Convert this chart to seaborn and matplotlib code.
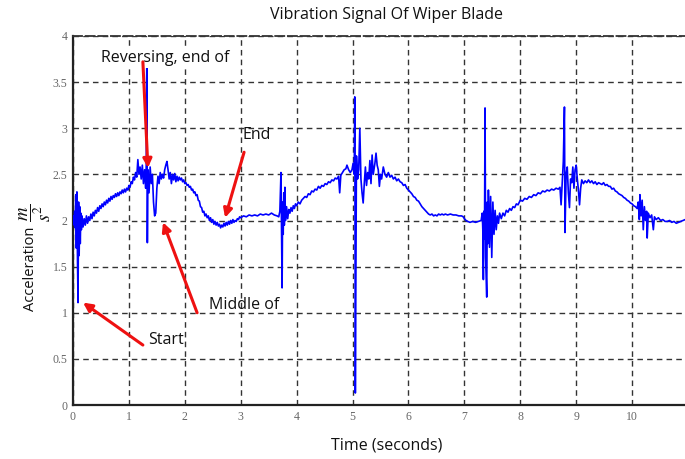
import matplotlib
matplotlib.use("Agg")
import matplotlib.pyplot as plt
import seaborn as sns
import pandas as pd

time_s = [
    0.00, 0.01, 0.02, 0.03, 0.04, 0.05, 0.06, 0.07, 0.08, 0.09, 0.10, 0.11, 0.12, 0.13, 0.14, 0.15, 0.16, 0.18,
    0.20, 0.22, 0.24, 0.26, 0.28, 0.30, 0.32, 0.34, 0.36, 0.38, 0.40, 0.42, 0.44, 0.46, 0.48, 0.50, 0.52, 0.54,
    0.56, 0.58, 0.60, 0.62, 0.64, 0.66, 0.68, 0.70, 0.72, 0.74, 0.76, 0.78, 0.80, 0.82, 0.84, 0.86, 0.88, 0.90,
    0.92, 0.94, 0.96, 0.98, 1.00, 1.02, 1.04, 1.06, 1.08, 1.10, 1.12, 1.14, 1.16, 1.18, 1.20, 1.22, 1.24, 1.26,
    1.28, 1.30, 1.31, 1.32, 1.33, 1.34, 1.36, 1.38, 1.40, 1.42, 1.44, 1.46, 1.48, 1.50, 1.52, 1.54, 1.56, 1.58,
    1.60, 1.62, 1.64, 1.66, 1.68, 1.70, 1.72, 1.74, 1.76, 1.78, 1.80, 1.82, 1.84, 1.86, 1.88, 1.90, 1.92, 1.94,
    1.96, 1.98, 2.00, 2.02, 2.04, 2.06, 2.08, 2.10, 2.12, 2.14, 2.16, 2.18, 2.20, 2.22, 2.24, 2.26, 2.28, 2.30,
    2.32, 2.34, 2.36, 2.38, 2.40, 2.42, 2.44, 2.46, 2.48, 2.50, 2.52, 2.54, 2.56, 2.58, 2.60, 2.62, 2.64, 2.66,
    2.68, 2.70, 2.72, 2.74, 2.76, 2.78, 2.80, 2.82, 2.84, 2.86, 2.88, 2.90, 2.92, 2.94, 2.96, 2.98, 3.00, 3.05,
    3.10, 3.15, 3.20, 3.25, 3.30, 3.35, 3.40, 3.45, 3.50, 3.55, 3.60, 3.65, 3.68, 3.70, 3.72, 3.73, 3.74, 3.75,
    3.76, 3.77, 3.78, 3.79, 3.80, 3.82, 3.84, 3.86, 3.88, 3.90, 3.92, 3.94, 3.96, 3.98, 4.00, 4.03, 4.06, 4.09,
    4.12, 4.15, 4.18, 4.21, 4.24, 4.27, 4.30, 4.33, 4.36, 4.39, 4.42, 4.45, 4.48, 4.51, 4.54, 4.57, 4.60, 4.63,
    4.66, 4.69, 4.72, 4.75, 4.77, 4.79, 4.82, 4.85, 4.88, 4.90, 4.93, 4.96, 4.99, 5.01, 5.03, 5.04, 5.05, 5.07,
    5.09, 5.11, 5.13, 5.15, 5.17, 5.19, 5.21, 5.23, 5.25, 5.27, 5.29, 5.31, 5.33, 5.35, 5.37, 5.40, 5.42, 5.44,
    5.46, 5.48, 5.50, 5.52, 5.55, 5.58, 5.61, 5.64, 5.67, 5.70, 5.73, 5.76, 5.79, 5.82, 5.85, 5.88, 5.91, 5.94,
    5.97, 6.00, 6.03, 6.06, 6.09, 6.12, 6.15, 6.18, 6.21, 6.24, 6.27, 6.30, 6.33, 6.36, 6.39, 6.42, 6.45, 6.48,
    6.51, 6.54, 6.57, 6.60, 6.63, 6.66, 6.70, 6.75, 6.80, 6.85, 6.90, 6.95, 6.98, 7.00, 7.03, 7.06, 7.10, 7.15,
    7.20, 7.25, 7.30, 7.32, 7.33, 7.34, 7.35, 7.36, 7.37, 7.38, 7.40, 7.41, 7.42, 7.43, 7.45, 7.47, 7.49, 7.51,
    7.53, 7.55, 7.57, 7.59, 7.61, 7.63, 7.66, 7.69, 7.72, 7.75, 7.78, 7.81, 7.84, 7.87, 7.90, 7.93, 7.96, 8.00,
    8.04, 8.08, 8.12, 8.16, 8.20, 8.24, 8.28, 8.32, 8.36, 8.40, 8.44, 8.48, 8.52, 8.56, 8.60, 8.64, 8.68, 8.71,
    8.73, 8.75, 8.77, 8.79, 8.80, 8.82, 8.84, 8.86, 8.88, 8.90, 8.92, 8.94, 8.96, 8.98, 9.00, 9.02, 9.04, 9.06,
    9.08, 9.10, 9.13, 9.16, 9.19, 9.22, 9.25, 9.28, 9.31, 9.34, 9.37, 9.40, 9.43, 9.46, 9.49, 9.52, 9.55, 9.58,
    9.61, 9.64, 9.67, 9.70, 9.73, 9.76, 9.79, 9.82, 9.85, 9.88, 9.91, 9.94, 9.97, 10.00, 10.03, 10.06, 10.09, 10.11,
    10.13, 10.14, 10.16, 10.18, 10.20, 10.22, 10.24, 10.26, 10.27, 10.29, 10.32, 10.35, 10.38, 10.40, 10.43, 10.47, 10.51, 10.55,
    10.59, 10.63, 10.67, 10.71, 10.75, 10.79, 10.83, 10.87, 10.91, 10.95, 11.00,
]

acceleration = [
    2.00, 2.05, 1.95, 2.10, 1.92, 2.28, 1.70, 2.31, 1.58, 1.11, 2.20, 1.62, 2.15, 1.75, 2.08, 1.90, 2.05, 1.93,
    2.02, 1.95, 2.05, 1.97, 2.04, 2.00, 2.07, 2.02, 2.09, 2.05, 2.11, 2.08, 2.14, 2.10, 2.16, 2.13, 2.18, 2.15,
    2.20, 2.17, 2.22, 2.19, 2.24, 2.21, 2.26, 2.23, 2.27, 2.25, 2.29, 2.26, 2.30, 2.27, 2.31, 2.29, 2.33, 2.30,
    2.34, 2.31, 2.35, 2.33, 2.38, 2.36, 2.42, 2.40, 2.47, 2.44, 2.52, 2.47, 2.66, 2.50, 2.58, 2.45, 2.60, 2.40,
    2.55, 2.35, 2.60, 3.72, 1.76, 2.55, 2.30, 2.58, 2.40, 2.50, 2.20, 2.05, 2.08, 2.35, 2.48, 2.40, 2.52, 2.45,
    2.50, 2.46, 2.55, 2.60, 2.64, 2.55, 2.45, 2.52, 2.40, 2.50, 2.44, 2.51, 2.42, 2.48, 2.43, 2.47, 2.44, 2.46,
    2.42, 2.44, 2.40, 2.41, 2.38, 2.39, 2.36, 2.37, 2.33, 2.34, 2.30, 2.31, 2.27, 2.28, 2.22, 2.21, 2.15, 2.14,
    2.09, 2.10, 2.05, 2.07, 2.03, 2.05, 2.00, 2.03, 1.98, 2.01, 1.96, 1.99, 1.95, 1.98, 1.94, 1.96, 1.92, 1.95,
    1.93, 1.97, 1.94, 1.98, 1.95, 1.99, 1.96, 2.00, 1.97, 2.01, 1.98, 2.00, 1.99, 2.02, 2.01, 2.04, 2.03, 2.05,
    2.04, 2.06, 2.05, 2.06, 2.05, 2.07, 2.06, 2.07, 2.06, 2.08, 2.06, 2.05, 2.04, 2.10, 2.52, 1.95, 1.27, 2.20,
    1.85, 2.30, 1.95, 2.36, 2.00, 2.15, 2.02, 2.12, 2.08, 2.14, 2.10, 2.16, 2.13, 2.18, 2.16, 2.20, 2.18, 2.22,
    2.24, 2.26, 2.25, 2.29, 2.28, 2.32, 2.31, 2.34, 2.33, 2.37, 2.35, 2.38, 2.37, 2.40, 2.39, 2.42, 2.41, 2.44,
    2.43, 2.46, 2.45, 2.48, 2.30, 2.49, 2.52, 2.55, 2.56, 2.60, 2.55, 2.52, 2.55, 2.62, 2.50, 3.34, 0.13, 2.70,
    2.45, 2.55, 3.00, 2.45, 2.30, 2.19, 2.40, 2.58, 2.38, 2.52, 2.45, 2.65, 2.40, 2.71, 2.50, 2.62, 2.73, 2.60,
    2.55, 2.37, 2.50, 2.45, 2.58, 2.50, 2.47, 2.52, 2.47, 2.49, 2.45, 2.47, 2.43, 2.45, 2.42, 2.41, 2.38, 2.39,
    2.35, 2.33, 2.31, 2.29, 2.26, 2.25, 2.22, 2.21, 2.18, 2.15, 2.13, 2.11, 2.09, 2.07, 2.06, 2.07, 2.05, 2.06,
    2.05, 2.07, 2.06, 2.07, 2.06, 2.07, 2.06, 2.07, 2.06, 2.06, 2.05, 2.05, 2.04, 2.02, 2.00, 1.99, 1.98, 1.99,
    1.98, 1.99, 2.00, 2.08, 1.90, 1.36, 2.10, 1.80, 3.22, 1.60, 1.17, 2.20, 1.75, 2.33, 1.71, 2.26, 1.60, 2.20,
    1.85, 2.11, 1.90, 2.05, 1.97, 2.08, 2.02, 2.08, 2.05, 2.11, 2.09, 2.13, 2.11, 2.15, 2.14, 2.18, 2.17, 2.22,
    2.21, 2.24, 2.23, 2.26, 2.25, 2.28, 2.27, 2.30, 2.29, 2.32, 2.31, 2.33, 2.32, 2.34, 2.33, 2.35, 2.34, 2.36,
    2.17, 2.40, 2.64, 3.23, 1.87, 2.50, 2.58, 2.30, 2.14, 2.45, 2.41, 2.58, 2.35, 2.55, 2.60, 2.45, 2.33, 2.17,
    2.35, 2.44, 2.40, 2.43, 2.41, 2.44, 2.41, 2.43, 2.40, 2.42, 2.39, 2.41, 2.40, 2.39, 2.41, 2.38, 2.39, 2.37,
    2.37, 2.34, 2.35, 2.32, 2.31, 2.29, 2.28, 2.27, 2.25, 2.24, 2.22, 2.21, 2.19, 2.18, 2.16, 2.15, 2.13, 2.20,
    2.01, 2.28, 2.05, 2.22, 1.90, 2.15, 2.00, 2.10, 1.81, 2.08, 2.03, 2.06, 1.90, 2.04, 2.01, 2.03, 2.00, 2.01,
    1.99, 1.99, 2.00, 1.98, 1.99, 1.97, 1.98, 1.99, 2.00, 2.01, 2.00,
]

x_ticks = [0, 1, 2, 3, 4, 5, 6, 7, 8, 9, 10]
y_ticks = [0, 0.5, 1, 1.5, 2, 2.5, 3, 3.5, 4]
y_tick_labels = ["0", "0.5", "1", "1.5", "2", "2.5", "3", "3.5", "4"]

annotation_texts = ["Reversing, end of", "End", "Middle of", "Start"]
annotation_text_pos = [(0.50, 3.76), (3.04, 2.93), (2.43, 1.08), (1.34, 0.70)]
arrow_tails = [(1.25, 3.72), (3.06, 2.74), (2.22, 1.00), (1.25, 0.65)]
arrow_heads = [(1.34, 2.57), (2.72, 2.03), (1.61, 1.98), (0.18, 1.11)]

sns.set_theme(style="white")
plt.rcParams["font.family"] = ["Open Sans", "DejaVu Sans"]
plt.rcParams["mathtext.fontset"] = "stix"

df = pd.DataFrame({"time": time_s, "accel": acceleration})

fig = plt.figure(figsize=(6.85, 4.59), dpi=100)
ax = fig.add_axes([73 / 685, 54 / 459, 615 / 685, 369 / 459])

sns.lineplot(data=df, x="time", y="accel", ax=ax, color="#0000ff", lw=1.2,
             estimator=None, sort=False, zorder=3)

ax.set_xlim(0, 11)
ax.set_ylim(0, 4)
ax.set_xticks(x_ticks)
ax.set_xticklabels([str(t) for t in x_ticks])
ax.set_yticks(y_ticks)
ax.set_yticklabels(y_tick_labels)
ax.grid(True, color="#333333", linestyle=(0, (4, 3)), lw=1.0)
ax.tick_params(direction="in", length=4, width=1, color="#333333",
               labelsize=8.5, labelcolor="#666666", pad=4)
for lab in ax.get_xticklabels() + ax.get_yticklabels():
    lab.set_family(["Liberation Serif", "DejaVu Serif"])

for side in ["left", "bottom"]:
    ax.spines[side].set_color("#222222")
    ax.spines[side].set_linewidth(1.6)
ax.spines["right"].set_visible(False)
ax.spines["top"].set_color("#333333")
ax.spines["top"].set_linewidth(1.3)
ax.spines["top"].set_linestyle((0, (5, 2)))

ax.set_xlabel("")
ax.set_ylabel("")

fig.text(387 / 685, 1 - 15 / 459, "Vibration Signal Of Wiper Blade",
         ha="center", va="center", fontsize=11.5, color="#111111")
fig.text(387 / 685, 1 - 446 / 459, "Time (seconds)",
         ha="center", va="center", fontsize=11.5, color="#111111")
fig.text(31 / 685, 1 - 269 / 459, "Acceleration",
         ha="center", va="center", rotation=90, fontsize=10.5, color="#111111")
fig.text(35 / 685, 1 - 213 / 459, r"$\dfrac{m}{s^2}$",
         ha="center", va="center", rotation=90, fontsize=13.5, color="#111111")

for txt, (tx, ty) in zip(annotation_texts, annotation_text_pos):
    bbox = None
    if txt.startswith("Reversing"):
        bbox = dict(facecolor="white", edgecolor="none", pad=1)
    ax.text(tx, ty, txt, ha="left", va="center", fontsize=11.5, color="#111111",
            zorder=5, bbox=bbox)

for (x0, y0), (x1, y1) in zip(arrow_tails, arrow_heads):
    ax.annotate("", xy=(x1, y1), xytext=(x0, y0),
                arrowprops=dict(arrowstyle="-|>", color="#ee1111", lw=2.2,
                                mutation_scale=13, shrinkA=0, shrinkB=0),
                zorder=6)

fig.savefig("out.png", dpi=100)
